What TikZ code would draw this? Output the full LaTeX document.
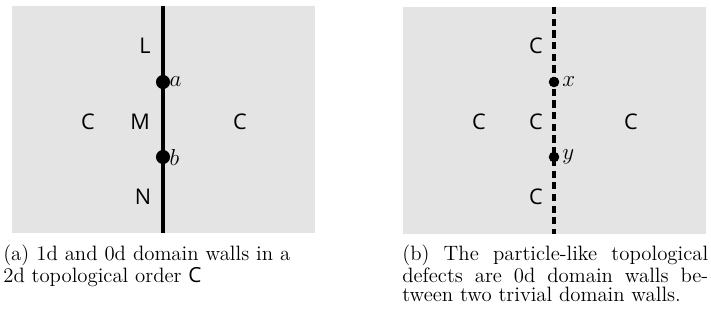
\documentclass[tikz,border=0pt]{standalone}
\usepackage{fontspec}
\usetikzlibrary{positioning}
\newfontfamily\lblfont{Open Sans}
\definecolor{PanelGray}{RGB}{228,228,228}

\begin{document}
\begin{tikzpicture}[x=0.625pt, y=-0.625pt,
    every node/.style={font=\lblfont\fontsize{13.5}{14}\selectfont, inner sep=0pt},
    wall/.style={line width=2.5pt},
    twall/.style={line width=2pt, dash pattern=on 4.5pt off 2.8pt},
    mlbl/.style={font=\fontsize{14.5}{14.5}\selectfont, anchor=west},
    capt/.style={font=\fontsize{13}{11.9}\selectfont, align=left, anchor=north west}]
  \useasboundingbox (0,0) rectangle (711,327);
  % panel (a)
  \fill[PanelGray] (12,6) rectangle (315,233);
  \coordinate (atop) at (163,6);
  \coordinate (abot) at (163,233);
  \draw[wall] (atop) -- (abot);
  \fill (163,82) circle (4.4pt) coordinate (pa);
  \fill (163,157) circle (4.4pt) coordinate (pb);
  \node[mlbl, right=4pt of pa] (la) {$a$};
  \node[mlbl, right=4pt of pb] (lb) {$b$};
  \node (L) at (145,46) {L};
  \node (M) at (140,122) {M};
  \node (N) at (143,197) {N};
  \node (cl) at (88,122) {C};
  \node (cr) at (240,122) {C};
  % panel (b)
  \fill[PanelGray] (403,7) rectangle (706,234);
  \coordinate (btop) at (554,7);
  \coordinate (bbot) at (554,234);
  \draw[twall] (btop) -- (bbot);
  \fill (554,82) circle (3.3pt) coordinate (px);
  \fill (554,157) circle (3.3pt) coordinate (py);
  \node[mlbl, right=5pt of px] (lx) {$x$};
  \node[mlbl, right=5pt of py] (ly) {$y$};
  \node (ct) at (536,46) {C};
  \node (cm) at (536,122) {C};
  \node (cb) at (536,197) {C};
  \node (bl) at (479,122) {C};
  \node (br) at (631,122) {C};
  % captions
  \node[capt] (capa) at (3,245) {\makebox[179.4pt][s]{(a) 1d and 0d domain walls in a}\\
    2d topological order {\lblfont C}};
  \node[capt] (capb) at (402,245) {\makebox[191.2pt][s]{(b) The particle-like topological}\\
    \makebox[191.2pt][s]{defects are 0d domain walls be-}\\
    tween two trivial domain walls.};
\end{tikzpicture}
\end{document}
